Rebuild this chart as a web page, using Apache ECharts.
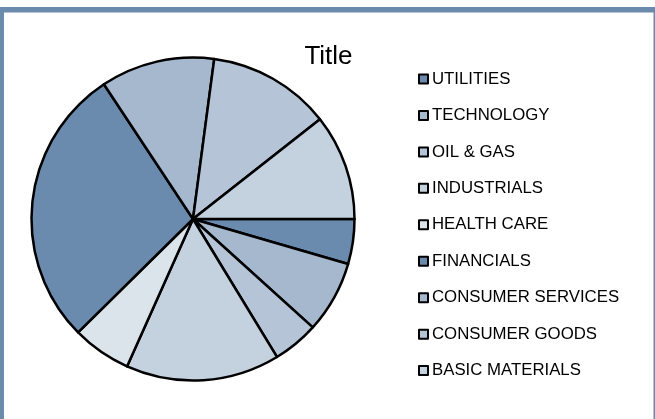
<!DOCTYPE html>
<html>
<head>
<meta charset="utf-8">
<script src="https://cdn.jsdelivr.net/npm/echarts@6/dist/echarts.min.js"></script>
<style>
  html, body { margin: 0; padding: 0; background: #fff; }
  #chart { width: 655px; height: 419px; }
</style>
</head>
<body>
<div id="chart"></div>
<script>
// sectors, in legend order (drawn clockwise starting at 3 o'clock)
var sectors = ["UTILITIES", "TECHNOLOGY", "OIL & GAS", "INDUSTRIALS", "HEALTH CARE",
               "FINANCIALS", "CONSUMER SERVICES", "CONSUMER GOODS", "BASIC MATERIALS"];
var weights = [4.5, 7.2, 4.6, 15.4, 5.9, 28.1, 11.4, 12.3, 10.6];
var sectorColors = ["#6a8aae", "#a6b8ce", "#b5c4d6", "#c4d1df", "#dbe3eb",
                    "#6a8aae", "#a6b8ce", "#b5c4d6", "#c4d1df"];

var chart = echarts.init(document.getElementById("chart"));

var pieData = [];
for (var i = 0; i < sectors.length; i++) {
    pieData.push({
        name: sectors[i],
        value: weights[i],
        itemStyle: { color: sectorColors[i] }
    });
}

var option = {
    animation: false,
    title: {
        text: "Title",
        left: 328.5,
        top: 42,
        padding: 0,
        textAlign: "center",
        textStyle: {
            fontFamily: "Liberation Sans, Arial, sans-serif",
            fontSize: 26,
            fontWeight: "normal",
            color: "#000",
            lineHeight: 30
        }
    },
    legend: {
        orient: "vertical",
        left: 418,
        top: 70,
        padding: 0,
        itemWidth: 9,
        itemHeight: 9,
        itemGap: 18.45,
        icon: "rect",
        selectedMode: false,
        data: sectors,
        itemStyle: { borderColor: "#000", borderWidth: 2 },
        textStyle: {
            fontFamily: "Liberation Sans, Arial, sans-serif",
            fontSize: 16.8,
            color: "#000",
            lineHeight: 18,
            padding: [0, 0, 0, -1]
        }
    },
    graphic: [
        // the blue-grey frame round the chart area
        { type: "rect", shape: { x: 0, y: 7, width: 655, height: 5.5 }, style: { fill: "#6a8aae" } },
        { type: "rect", shape: { x: 0, y: 7, width: 4, height: 412 }, style: { fill: "#6a8aae" } },
        { type: "rect", shape: { x: 653.5, y: 7, width: 1.5, height: 412 }, style: { fill: "#6a8aae" } }
    ],
    series: [{
        type: "pie",
        center: [193, 219],
        radius: 161.5,
        startAngle: 0,
        clockwise: true,
        label: { show: false },
        labelLine: { show: false },
        emphasis: { disabled: true },
        itemStyle: { borderColor: "#000", borderWidth: 2.5 },
        data: pieData
    }]
};

chart.setOption(option);
</script>
</body>
</html>
